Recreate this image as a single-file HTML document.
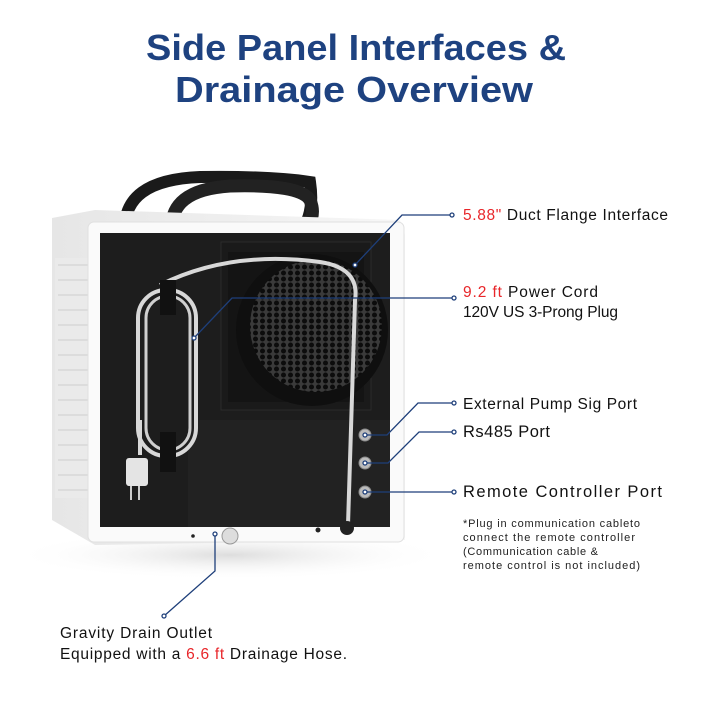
<!DOCTYPE html>
<html><head><meta charset="utf-8"><style>
html,body{margin:0;padding:0;background:#fff;}
svg{display:block;}
text{font-family:"Liberation Sans",sans-serif;}
</style></head><body>
<svg width="713" height="713" viewBox="0 0 713 713" xmlns="http://www.w3.org/2000/svg">
<defs>
<pattern id="hex" width="7" height="6" patternUnits="userSpaceOnUse">
<rect width="7" height="6" fill="#3a3a3a"/>
<circle cx="3.5" cy="3" r="2.5" fill="#0c0c0c"/>
</pattern>
<linearGradient id="side" x1="0" x2="1"><stop offset="0" stop-color="#e6e6e6"/><stop offset="1" stop-color="#f7f7f7"/></linearGradient>
<radialGradient id="shadow" cx="0.5" cy="0.5" r="0.5"><stop offset="0" stop-color="#ddd"/><stop offset="1" stop-color="#fff" stop-opacity="0"/></radialGradient>
</defs>
<text x="356" y="60" text-anchor="middle" font-size="36" font-weight="bold" fill="#1e4280" textLength="420" lengthAdjust="spacingAndGlyphs">Side Panel Interfaces &amp;</text>
<text x="354" y="102" text-anchor="middle" font-size="36" font-weight="bold" fill="#1e4280" textLength="358" lengthAdjust="spacingAndGlyphs">Drainage Overview</text>

<ellipse cx="230" cy="555" rx="220" ry="25" fill="url(#shadow)"/>
<!-- handles -->
<path d="M125 232 Q122 180 200 177 Q270 176 310 182 Q315 215 300 232" fill="none" stroke="#1a1a1a" stroke-width="12"/>
<path d="M172 232 Q168 190 230 186 Q300 184 310 200 Q318 220 300 232" fill="none" stroke="#222" stroke-width="13"/>
<!-- body -->
<path d="M52 218 L95 210 L400 220 L405 235 L405 540 L95 545 L52 520 Z" fill="url(#side)"/>
<rect x="55" y="258" width="40" height="240" fill="#eaeaea"/>
<g stroke="#cfcfcf" stroke-width="1">
<line x1="58" y1="265" x2="92" y2="265"/><line x1="58" y1="280" x2="92" y2="280"/><line x1="58" y1="295" x2="92" y2="295"/><line x1="58" y1="310" x2="92" y2="310"/><line x1="58" y1="325" x2="92" y2="325"/><line x1="58" y1="340" x2="92" y2="340"/><line x1="58" y1="355" x2="92" y2="355"/><line x1="58" y1="370" x2="92" y2="370"/><line x1="58" y1="385" x2="92" y2="385"/><line x1="58" y1="400" x2="92" y2="400"/><line x1="58" y1="415" x2="92" y2="415"/><line x1="58" y1="430" x2="92" y2="430"/><line x1="58" y1="445" x2="92" y2="445"/><line x1="58" y1="460" x2="92" y2="460"/><line x1="58" y1="475" x2="92" y2="475"/><line x1="58" y1="490" x2="92" y2="490"/>
</g>
<rect x="88" y="222" width="316" height="320" rx="6" fill="#fafafa" stroke="#e0e0e0"/>
<rect x="100" y="233" width="290" height="294" fill="#1d1d1d"/>
<rect x="188" y="420" width="202" height="107" fill="#222"/>
<!-- fan flange -->
<rect x="221" y="242" width="150" height="168" fill="#1a1a1a" stroke="#2b2b2b"/>
<rect x="228" y="252" width="136" height="150" fill="#141414"/>
<circle cx="312" cy="330" r="76" fill="#0f0f0f"/>
<circle cx="316" cy="326" r="66" fill="url(#hex)"/>
<!-- cord -->
<path d="M160 285 Q230 250 320 262 Q360 268 355 300 L348 525" fill="none" stroke="#d8d8d8" stroke-width="4"/>
<rect x="138" y="290" width="58" height="166" rx="28" fill="none" stroke="#d8d8d8" stroke-width="4"/>
<rect x="146" y="296" width="44" height="154" rx="22" fill="none" stroke="#cfcfcf" stroke-width="3"/>
<rect x="160" y="280" width="16" height="35" fill="#111"/>
<rect x="160" y="432" width="16" height="40" fill="#111"/>
<path d="M140 420 L140 455" stroke="#d8d8d8" stroke-width="4"/>
<rect x="126" y="458" width="22" height="28" rx="3" fill="#e4e4e4"/>
<line x1="131" y1="486" x2="131" y2="500" stroke="#ccc" stroke-width="2"/>
<line x1="139" y1="486" x2="139" y2="500" stroke="#ccc" stroke-width="2"/>
<!-- ports -->
<circle cx="365" cy="435" r="6" fill="#bbb" stroke="#888"/>
<circle cx="365" cy="463" r="6" fill="#bbb" stroke="#888"/>
<circle cx="365" cy="492" r="6" fill="#bbb" stroke="#888"/>
<circle cx="347" cy="528" r="7" fill="#222"/>
<circle cx="193" cy="536" r="1.8" fill="#222"/>
<circle cx="318" cy="530" r="2.5" fill="#222"/>
<circle cx="230" cy="536" r="8" fill="#ddd" stroke="#999"/>
<!-- connectors -->
<g fill="none" stroke="#1e3f7a" stroke-width="1.3">
<polyline points="355,265 402,215 450,215"/>
<polyline points="194,338 232,298 452,298"/>
<polyline points="365,435 387,435 418,403 452,403"/>
<polyline points="365,463 388,463 419,432 452,432"/>
<polyline points="365,492 452,492"/>
<polyline points="215,534 215,571 164,616"/>
</g>
<g fill="#fff" stroke="#1e3f7a" stroke-width="1.3">
<circle cx="452" cy="215" r="2"/><circle cx="454" cy="298" r="2"/><circle cx="454" cy="403" r="2"/><circle cx="454" cy="432" r="2"/><circle cx="454" cy="492" r="2"/>
<circle cx="355" cy="265" r="2"/><circle cx="194" cy="338" r="2"/><circle cx="365" cy="435" r="2"/><circle cx="365" cy="463" r="2"/><circle cx="365" cy="492" r="2"/><circle cx="215" cy="534" r="2"/><circle cx="164" cy="616" r="2"/>
</g>
<g font-size="15.5" fill="#111">
<text x="463" y="220" textLength="205"><tspan fill="#e8262a">5.88"</tspan> Duct Flange Interface</text>
<text x="463" y="297" textLength="135"><tspan fill="#e8262a">9.2 ft</tspan> Power Cord</text>
<text x="463" y="317" textLength="155">120V US 3-Prong Plug</text>
<text x="463" y="409" textLength="174">External Pump Sig Port</text>
<text x="463" y="437" font-size="16.5" textLength="87">Rs485 Port</text>
<text x="463" y="497" font-size="16.5" textLength="199">Remote Controller Port</text>
<text x="60" y="638" textLength="152">Gravity Drain Outlet</text>
<text x="60" y="659" textLength="287">Equipped with a <tspan fill="#e8262a">6.6 ft</tspan> Drainage Hose.</text>
</g>
<g font-size="11" fill="#222">
<text x="463" y="527" textLength="177">*Plug in communication cableto</text>
<text x="463" y="541" textLength="172">connect the remote controller</text>
<text x="463" y="555" textLength="135">(Communication cable &amp;</text>
<text x="463" y="569" textLength="177">remote control is not included)</text>
</g>
</svg>
</body></html>
